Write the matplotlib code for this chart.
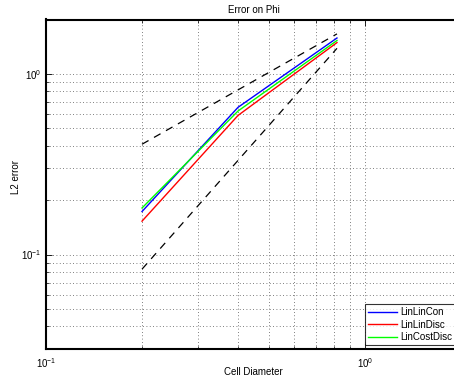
import matplotlib
matplotlib.use("Agg")
import matplotlib.pyplot as plt
from matplotlib.ticker import LogLocator, NullFormatter

plt.rcParams['font.family'] = ['Liberation Sans', 'DejaVu Sans']
plt.rcParams['mathtext.fontset'] = 'custom'
plt.rcParams['mathtext.rm'] = 'Liberation Sans'

cell_diameter = [0.2, 0.4, 0.817]
lin_lin_con = [0.173, 0.653, 1.58]
lin_lin_disc = [0.153, 0.589, 1.49]
lin_cost_disc = [0.181, 0.623, 1.53]
ref_order1 = [0.408, 1.665]
ref_order2 = [0.083, 1.385]
ref_x = [0.2, 0.817]

fig = plt.figure(figsize=(4.54, 3.81), dpi=100)
ax = fig.add_axes([46/454, 32/381, 415/454, 329.5/381])

ax.loglog(cell_diameter, lin_lin_con, color='#0000ff', lw=1.0, label='LinLinCon')
ax.loglog(cell_diameter, lin_lin_disc, color='#ff0000', lw=1.0, label='LinLinDisc')
ax.loglog(cell_diameter, lin_cost_disc, color='#00ff00', lw=1.0, label='LinCostDisc')
ax.loglog(ref_x, ref_order1, color='black', lw=0.9, ls=(0, (6, 5)))
ax.loglog(ref_x, ref_order2, color='black', lw=0.9, ls=(0, (6, 5)))

ax.set_xlim(0.1, 2)
ax.set_ylim(0.03, 2)

for s in ['left', 'bottom', 'top']:
    ax.spines[s].set_linewidth(1.5)
ax.spines['right'].set_visible(False)

ax.xaxis.set_major_locator(LogLocator(base=10, numticks=10))
ax.yaxis.set_major_locator(LogLocator(base=10, numticks=10))
ax.xaxis.set_minor_locator(LogLocator(base=10, subs=range(2, 10), numticks=20))
ax.yaxis.set_minor_locator(LogLocator(base=10, subs=range(2, 10), numticks=20))
ax.xaxis.set_minor_formatter(NullFormatter())
ax.yaxis.set_minor_formatter(NullFormatter())

ax.tick_params(which='both', direction='in', top=True, right=False, labelsize=7, colors='black')
ax.tick_params(which='major', length=4, width=0.6)
ax.tick_params(which='minor', length=2, width=0.5)
ax.tick_params(axis='x', pad=5)

ax.grid(True, which='both', color='#555555', ls=(0, (1, 3)), lw=0.6)

ax.set_title('Error on Phi', fontsize=7, pad=5)
ax.set_xlabel('Cell Diameter', fontsize=7)
ax.set_ylabel('L2 error', fontsize=7)
ax.xaxis.set_label_coords(0.499, -0.055)
ax.yaxis.set_label_coords(-0.061, 0.522)

leg = ax.legend(loc='lower right', bbox_to_anchor=(455/454, 36/381), bbox_transform=fig.transFigure,
                fontsize=7, frameon=True, fancybox=False, edgecolor='black',
                handlelength=3.0, borderpad=0.3, labelspacing=0.25, handletextpad=0.3,
                borderaxespad=0)
leg.get_frame().set_linewidth(0.8)

fig.savefig('out.png', dpi=100)
